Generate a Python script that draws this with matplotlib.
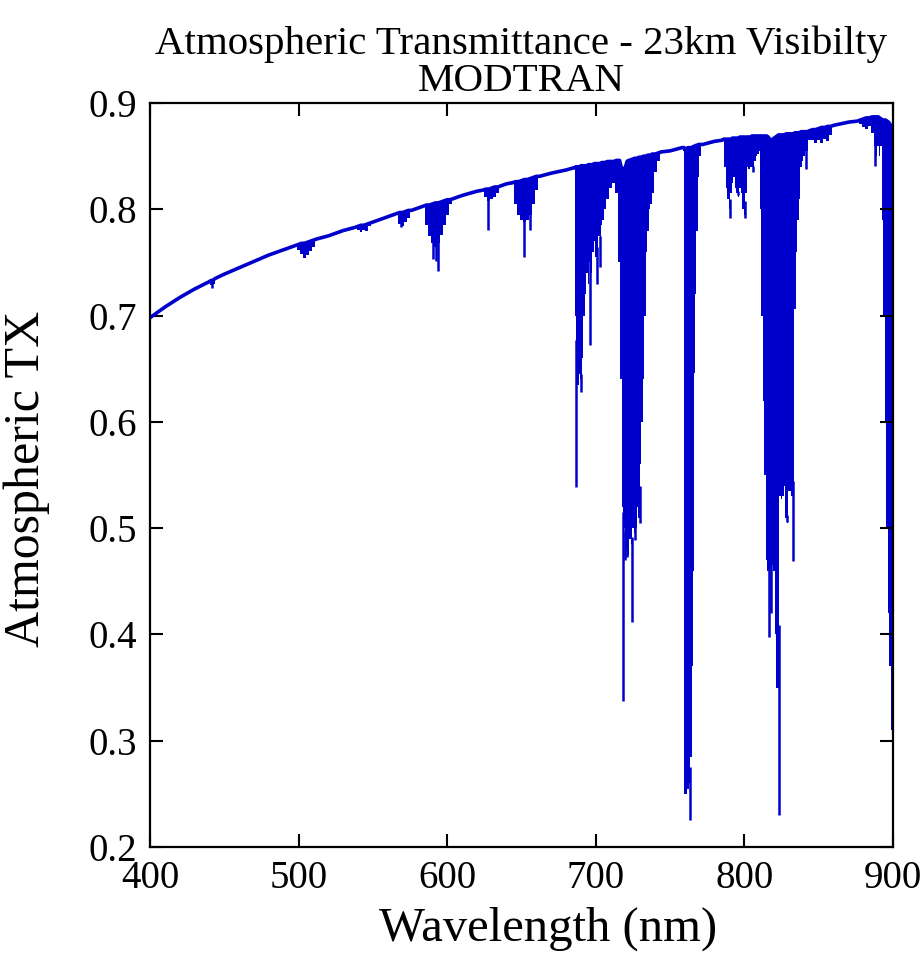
import numpy as np
import matplotlib
matplotlib.use("Agg")
import matplotlib.pyplot as plt

# spectrum: wavelength (nm), upper edge and lower edge of the trace
wl = [400, 410, 420, 430, 440, 441, 442, 443, 444, 450,
      460, 470, 480, 490, 498, 500, 502, 504, 506, 508,
      510, 512, 520, 530, 538, 540, 542, 544, 546, 548,
      550, 560, 566, 568, 570, 572, 574, 576, 580, 584,
      586, 588, 590, 592, 594, 596, 598, 600, 602, 604,
      610, 620, 624, 626, 628, 630, 632, 634, 636, 640,
      644, 646, 648, 650, 652, 654, 656, 658, 660, 662,
      670, 680, 685,
      686, 686.5, 687, 688, 689, 690, 691, 692, 693, 694,
      695, 696, 697, 698, 699, 700, 701, 702, 703, 704,
      705, 706, 708, 710, 712, 714, 716, 717, 718, 719,
      720, 721, 722, 723, 724, 725, 726, 727, 728, 729,
      730, 731, 732, 733, 734, 735, 736, 737, 738, 740,
      742, 744, 750, 758,
      759, 759.5, 760, 761, 762, 763, 764, 765, 765.5, 766,
      767, 768, 769, 770, 772, 780, 785,
      786, 787, 788, 789, 790, 791, 792, 793, 794, 795,
      796, 797, 798, 799, 800, 801, 802, 803, 804, 805,
      806, 807, 808, 809, 810, 811, 812, 813, 814, 815,
      816, 817, 818, 819, 820, 821, 822, 823, 824, 825,
      826, 827, 828, 829, 830, 831, 832, 833, 834, 835,
      836, 837, 838, 839, 840, 842, 844, 846, 848, 850,
      852, 854, 856, 858, 860, 870,
      876, 878, 880, 882, 884, 886, 888, 889, 890, 891,
      892, 893, 894, 895, 896, 897, 898, 899, 900]

tx_top = [.698, .708, .717, .725, .732, .733, .733, .734, .735, .739,
          .745, .751, .757, .762, .766, .767, .768, .768, .769, .770,
          .771, .772, .775, .780, .783, .784, .785, .785, .786, .787,
          .788, .793, .796, .797, .797, .798, .799, .799, .801, .803,
          .804, .804, .805, .806, .806, .807, .808, .809, .809, .810,
          .813, .817, .818, .819, .819, .820, .821, .821, .822, .824,
          .825, .826, .826, .827, .828, .828, .829, .830, .831, .831,
          .834, .837, .839,
          .839, .840, .840, .840, .840, .841, .841, .841, .841, .841,
          .842, .842, .842, .842, .843, .843, .843, .843, .843, .844,
          .844, .844, .845, .845, .845, .846, .846, .840, .838, .838,
          .840, .845, .846, .846, .847, .847, .848, .848, .848, .849,
          .849, .849, .850, .850, .850, .851, .851, .851, .852, .852,
          .853, .854, .855, .858,
          .858, .858, .857, .857, .858, .858, .858, .858, .859, .859,
          .860, .860, .861, .861, .861, .864, .865,
          .866, .866, .866, .866, .866, .866, .867, .867, .867, .867,
          .867, .868, .868, .868, .868, .868, .868, .868, .868, .869,
          .869, .869, .869, .869, .869, .869, .869, .869, .869, .869,
          .868, .866, .865, .866, .867, .868, .869, .870, .870, .870,
          .870, .870, .871, .871, .871, .871, .871, .871, .872, .872,
          .872, .872, .873, .873, .873, .873, .874, .875, .875, .876,
          .877, .877, .878, .878, .879, .882,
          .883, .884, .885, .886, .886, .887, .887, .887, .887, .886,
          .885, .884, .884, .884, .883, .882, .880, .878, .876]

tx_bot = [.698, .708, .717, .725, .732, .729, .727, .730, .735, .739,
          .745, .751, .757, .762, .766, .762, .758, .754, .757, .761,
          .765, .772, .775, .780, .783, .781, .779, .781, .780, .784,
          .788, .793, .796, .786, .784, .788, .792, .799, .801, .803,
          .785, .775, .768, .765, .768, .776, .785, .795, .805, .810,
          .813, .817, .818, .812, .808, .810, .812, .815, .822, .824,
          .825, .805, .795, .790, .788, .790, .795, .805, .818, .831,
          .834, .837, .839,
          .839, .700, .630, .635, .645, .640, .660, .700, .720, .740,
          .730, .750, .740, .760, .770, .755, .760, .775, .770, .785,
          .790, .800, .810, .820, .825, .815, .750, .640, .520, .500,
          .490, .480, .475, .490, .485, .500, .495, .500, .520, .510,
          .560, .600, .640, .700, .760, .780, .800, .805, .815, .835,
          .845, .854, .855, .858,
          .855, .250, .250, .250, .255, .260, .285, .370, .460, .646,
          .720, .780, .830, .850, .861, .864, .865,
          .866, .840, .820, .810, .800, .815, .825, .830, .820, .815,
          .812, .820, .815, .800, .795, .815, .840, .838, .840, .840,
          .836, .845, .850, .852, .855, .800, .700, .620, .550, .470,
          .460, .460, .462, .465, .460, .400, .350, .350, .530, .527,
          .530, .540, .510, .505, .535, .535, .530, .540, .706, .760,
          .790, .810, .840, .845, .850, .855, .865, .865, .862, .865,
          .862, .866, .864, .870, .879, .882,
          .883, .880, .877, .876, .878, .872, .860, .850, .860, .850,
          .860, .790, .700, .600, .500, .420, .370, .310, .300]

# narrow deep lines that stick out below the bands
line_wl = [442, 569, 590.5, 592.5, 594, 627.5, 651.7, 655.7,
           686.7, 690, 696, 701, 703, 718.5, 719.8, 721.2, 724.1, 726.5, 729.5,
           763.4, 790.3, 795.9, 800.4, 806, 816.8, 818, 823.3, 828.5, 832.9,
           841.5, 888]
line_lo = [.726, .783, .753, .751, .742, .781, .755, .781,
           .539, .628, .672, .730, .746, .337, .470, .473, .412, .489, .505,
           .225, .792, .813, .792, .835, .398, .420, .230, .506, .469,
           .838, .841]

xticks = [400, 500, 600, 700, 800, 900]
yticks = [0.2, 0.3, 0.4, 0.5, 0.6, 0.7, 0.8, 0.9]

BLUE = "#0000CD"

plt.rcParams["font.family"] = ["Liberation Serif", "DejaVu Serif"]

fig = plt.figure(figsize=(9.23, 9.61), dpi=100)
ax = fig.add_axes([0.1625, 0.1186, 0.805, 0.7742])

wl_arr = np.array(wl)
ax.fill_between(wl_arr, tx_bot, tx_top, step="mid", color=BLUE, linewidth=0)
ax.plot(wl_arr, tx_top, color=BLUE, linewidth=2.6)
line_hi = np.interp(line_wl, wl_arr, tx_bot) + 0.005
ax.vlines(line_wl, line_lo, line_hi, color=BLUE, linewidth=1.8)

ax.set_xlim(400, 900)
ax.set_ylim(0.2, 0.9)
ax.set_xticks(xticks)
ax.set_yticks(yticks)
ax.set_yticklabels([f"{v:.1f}" for v in yticks])
ax.tick_params(direction="in", length=9.5, width=1.5, top=True, right=True,
               labelsize=28, pad=9, colors="black")
for sp in ax.spines.values():
    sp.set_linewidth(1.6)

ax.set_title("Atmospheric Transmittance - 23km Visibilty\nMODTRAN",
             fontsize=29.5, linespacing=1.0, pad=9)
ax.set_xlabel("Wavelength (nm)", fontsize=35)
ax.xaxis.set_label_coords(0.536, -0.080)
ax.set_ylabel("Atmospheric TX", fontsize=36)
ax.yaxis.set_label_coords(-0.134, 0.495)

fig.savefig("out.png", dpi=100)
